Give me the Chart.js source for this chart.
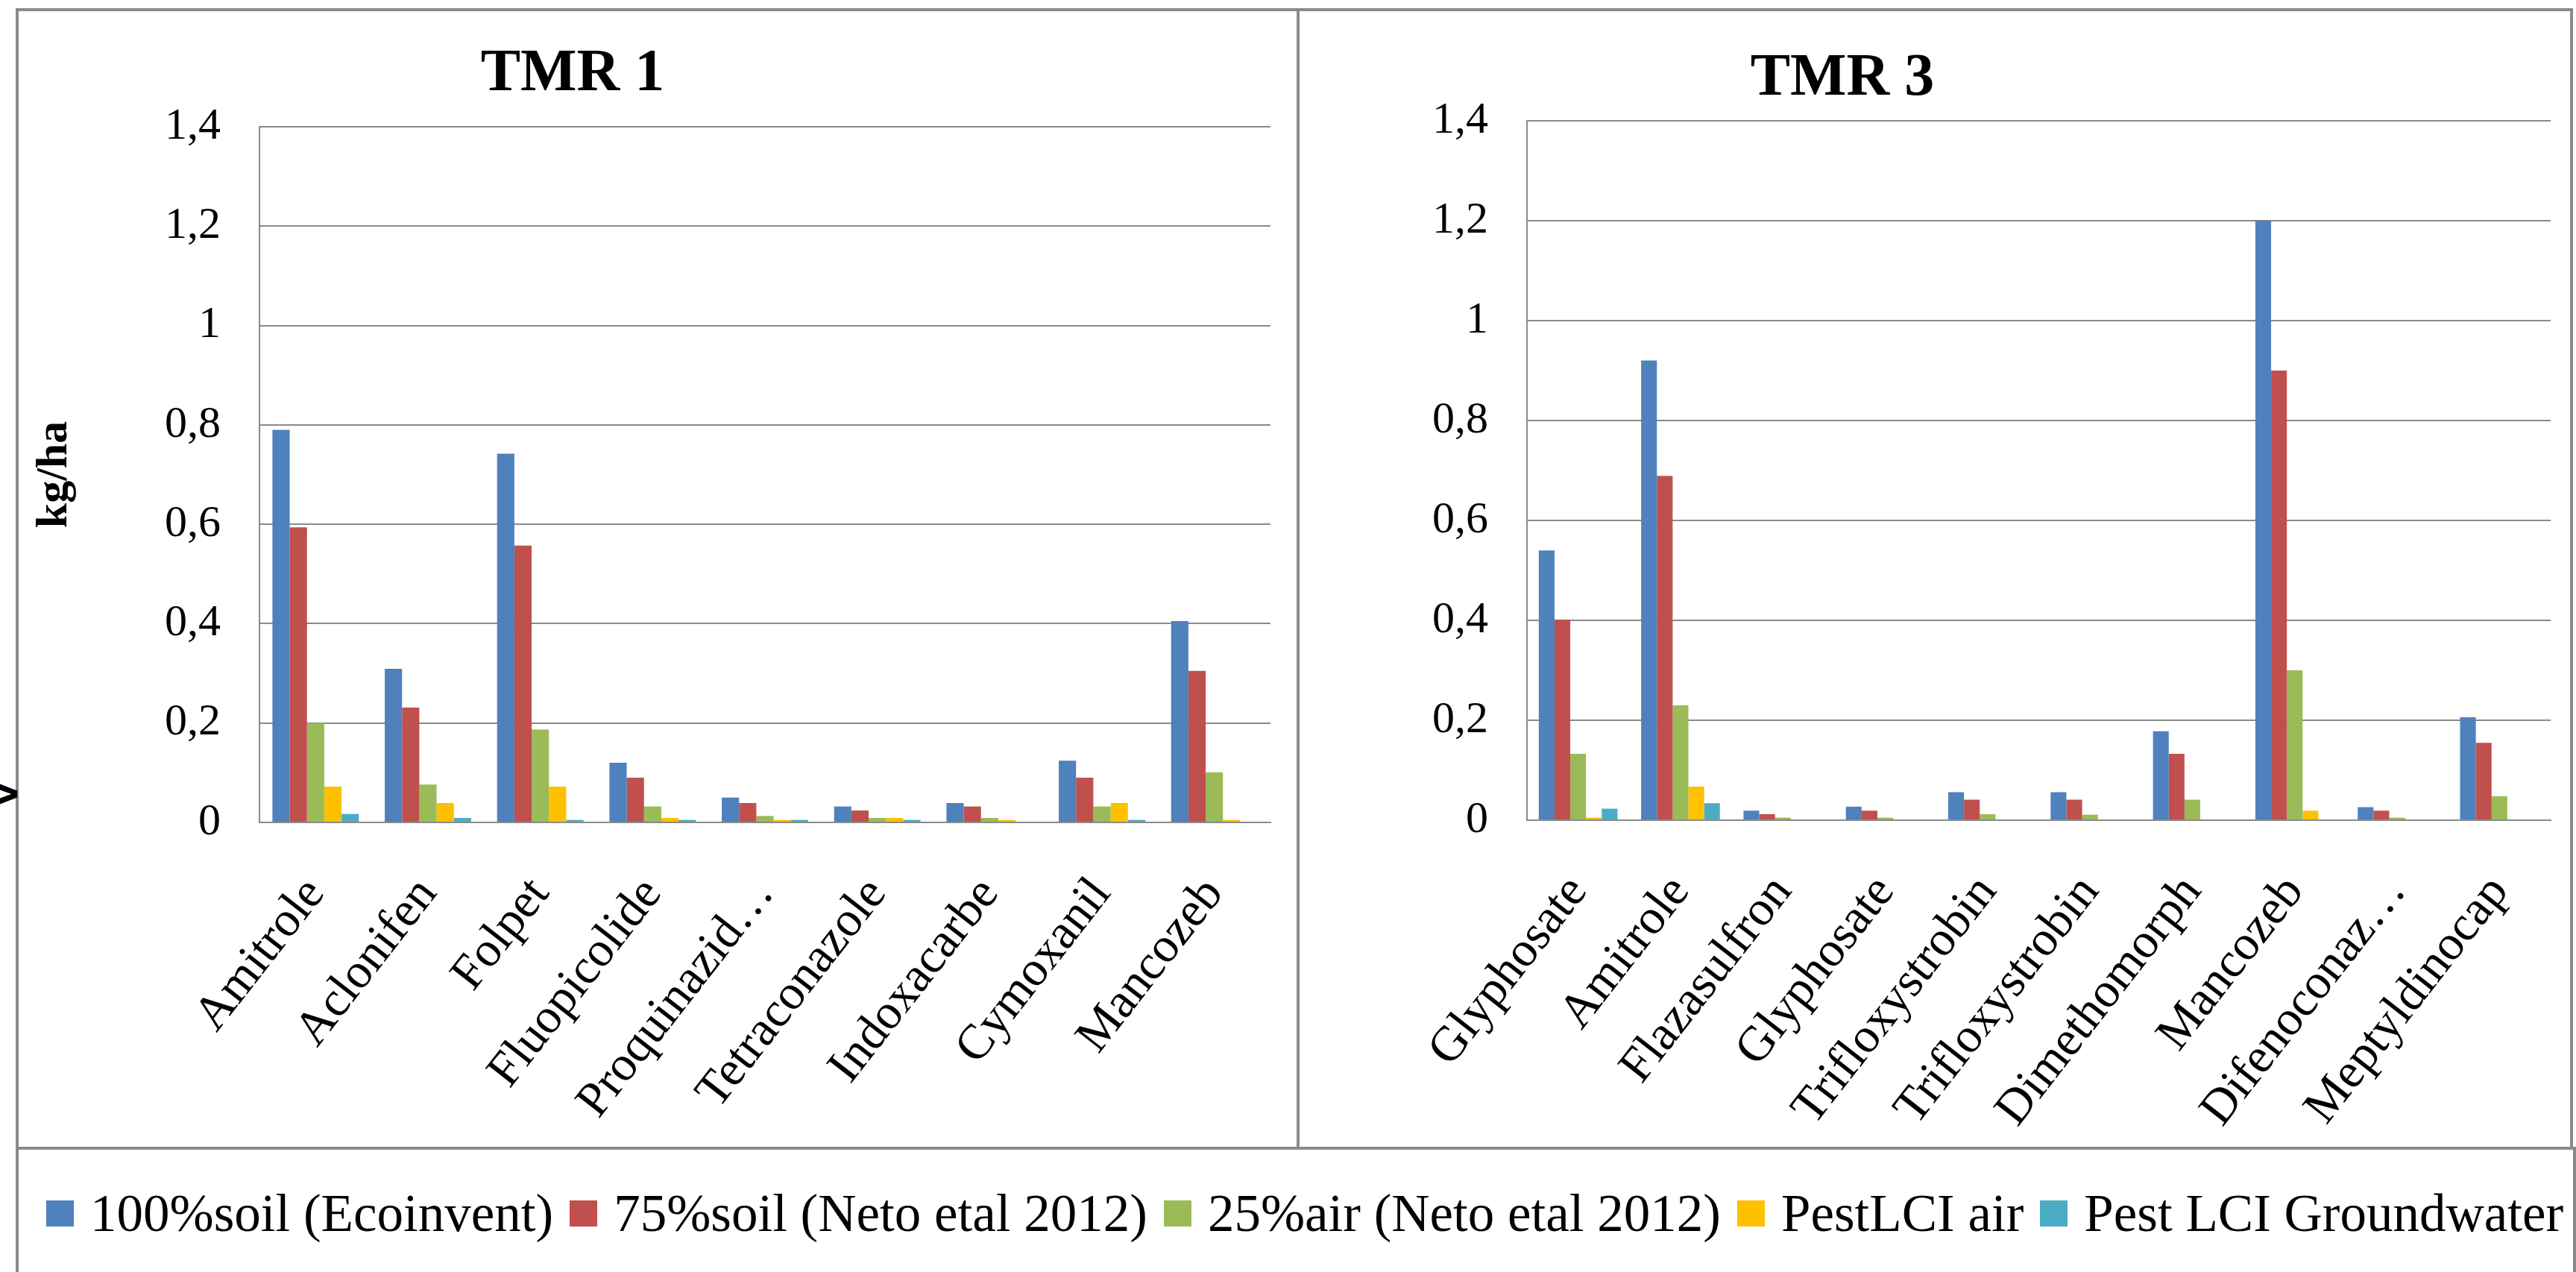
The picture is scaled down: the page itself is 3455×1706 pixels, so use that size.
<!DOCTYPE html>
<html>
<head>
<meta charset="utf-8">
<title>TMR 1 / TMR 3 – pesticide emissions (kg/ha)</title>
<script src="https://cdn.jsdelivr.net/npm/chart.js@4.4.1/dist/chart.umd.min.js"></script>
<style>
  html, body { margin: 0; padding: 0; background: #fff; }
  #page { position: relative; width: 3455px; height: 1706px; overflow: hidden; background: #fff; }
  .rule { position: absolute; background: #8a8a8a; }
  .cell { position: absolute; }
  #legend {
    position: absolute; left: 62px; top: 1546px; height: 163px; width: 3393px;
    display: flex; align-items: center; white-space: nowrap;
    font-family: "Liberation Serif", "Times New Roman", serif; font-size: 71px; color: #000;
  }
  .item { display: flex; align-items: center; margin-right: 22px; }
  .swatch { width: 37px; height: 35px; margin-right: 22px; flex: none; }
  #clip {
    position: absolute; left: -8px; top: 1038px;
    font-family: "DejaVu Sans", sans-serif; font-weight: bold; font-size: 46px; color: #000;
    transform: rotate(-90deg); transform-origin: center;
  }
</style>
</head>
<body>
<div id="page">
  <!-- frame of the two panels and the legend row -->
  <div class="rule" style="left:21px;top:11px;width:3430px;height:4px;"></div>
  <div class="rule" style="left:21px;top:11px;width:4px;height:1695px;"></div>
  <div class="rule" style="left:1739px;top:11px;width:4px;height:1531px;"></div>
  <div class="rule" style="left:3447px;top:11px;width:4px;height:1531px;"></div>
  <div class="rule" style="left:3451px;top:1538px;width:4px;height:168px;"></div>
  <div class="rule" style="left:21px;top:1538px;width:3434px;height:4px;"></div>

  <div id="clip">v</div>

  <canvas class="cell" id="tmr1" width="1714" height="1523" style="left:25px;top:15px;"></canvas>
  <canvas class="cell" id="tmr3" width="1704" height="1523" style="left:1743px;top:15px;"></canvas>

  <div id="legend"></div>
</div>

<script>
// ---- data -------------------------------------------------------------
const seriesNames = [
  '100%soil (Ecoinvent)',
  '75%soil (Neto etal 2012)',
  '25%air (Neto etal 2012)',
  'PestLCI air',
  'Pest LCI Groundwater'
];

const tmr1Categories = ['Amitrole', 'Aclonifen', 'Folpet', 'Fluopicolide', 'Proquinazid\u2026',
                        'Tetraconazole', 'Indoxacarbe', 'Cymoxanil', 'Mancozeb'];
const tmr1Soil100   = [0.790, 0.309, 0.742, 0.120, 0.050, 0.032, 0.039, 0.124, 0.405];
const tmr1Soil75    = [0.594, 0.231, 0.557, 0.090, 0.039, 0.024, 0.032, 0.090, 0.305];
const tmr1Air25     = [0.200, 0.076, 0.187, 0.032, 0.013, 0.009, 0.009, 0.032, 0.101];
const tmr1PestAir   = [0.072, 0.039, 0.072, 0.009, 0.005, 0.009, 0.005, 0.039, 0.005];
const tmr1PestGw    = [0.017, 0.009, 0.005, 0.005, 0.005, 0.005, 0.000, 0.005, 0.000];

const tmr3Categories = ['Glyphosate', 'Amitrole', 'Flazasulfron', 'Glyphosate', 'Trifloxystrobin',
                        'Trifloxystrobin', 'Dimethomorph', 'Mancozeb', 'Difenoconaz\u2026', 'Meptyldinocap'];
const tmr3Soil100   = [0.540, 0.920, 0.019, 0.027, 0.056, 0.056, 0.178, 1.200, 0.026, 0.206];
const tmr3Soil75    = [0.401, 0.689, 0.012, 0.019, 0.041, 0.041, 0.133, 0.900, 0.019, 0.155];
const tmr3Air25     = [0.133, 0.230, 0.005, 0.005, 0.012, 0.011, 0.041, 0.300, 0.005, 0.048];
const tmr3PestAir   = [0.005, 0.067, 0.000, 0.000, 0.000, 0.000, 0.000, 0.019, 0.000, 0.000];
const tmr3PestGw    = [0.023, 0.034, 0.000, 0.000, 0.000, 0.000, 0.000, 0.000, 0.000, 0.000];

const yTickValues = [0, 0.2, 0.4, 0.6, 0.8, 1, 1.2, 1.4];

// ---- styling ----------------------------------------------------------
const seriesColors = ['#4F81BD', '#C0504D', '#9BBB59', '#FFC000', '#4BACC6'];
const SERIF = '"Liberation Serif", "Times New Roman", serif';
const GRID = '#8a8a8a';

// Panel heading drawn at a fixed spot above the plot
const panelTitle = {
  id: 'panelTitle',
  afterDraw(chart, args, opts) {
    const ctx = chart.ctx;
    ctx.save();
    ctx.font = 'bold 80px ' + SERIF;
    ctx.fillStyle = '#000';
    ctx.textAlign = 'center';
    ctx.textBaseline = 'middle';
    ctx.fillText(opts.text, opts.x, opts.y);
    ctx.restore();
  }
};

function commaDecimal(v) {
  return String(Math.round(v * 10) / 10).replace('.', ',');
}

function makeDatasets(series) {
  return series.map((values, i) => ({
    label: seriesNames[i],
    data: values,
    backgroundColor: seriesColors[i],
    borderWidth: 0,
    categoryPercentage: 5 / 6.5,
    barPercentage: 1.0
  }));
}

function buildPanel(canvasId, categories, series, cfg) {
  return new Chart(document.getElementById(canvasId), {
    type: 'bar',
    data: { labels: categories, datasets: makeDatasets(series) },
    plugins: [panelTitle],
    options: {
      responsive: false,
      animation: false,
      devicePixelRatio: 1,
      layout: { padding: { left: 0, right: cfg.padRight, top: cfg.padTop, bottom: 0 } },
      plugins: {
        legend: { display: false },
        tooltip: { enabled: false },
        panelTitle: { text: cfg.title, x: cfg.titleX, y: cfg.titleY }
      },
      scales: {
        x: {
          // fixed band for the slanted names; the plot keeps its full width
          afterFit: s => { s.height = cfg.xAxisHeight; s.paddingLeft = 0; s.paddingRight = 0; },
          border: { display: true, color: GRID, width: 2 },
          grid: { display: false, drawTicks: false },
          ticks: {
            autoSkip: false, minRotation: 52, maxRotation: 52, padding: 60,
            color: '#000', font: { family: SERIF, size: 66 }
          }
        },
        y: {
          min: 0, max: 1.4,
          afterBuildTicks: s => { s.ticks = yTickValues.map(v => ({ value: v })); },
          afterFit: s => { s.width = cfg.yAxisWidth; s.paddingTop = 0; s.paddingBottom = 0; },
          border: { display: true, color: GRID, width: 2 },
          grid: { color: GRID, lineWidth: 2, drawTicks: false },
          ticks: {
            padding: 52, color: '#000', font: { family: SERIF, size: 60 },
            callback: v => commaDecimal(v)
          },
          title: cfg.yTitle
            ? { display: true, text: cfg.yTitle, color: '#000',
                font: { family: SERIF, size: 60, weight: 'bold' }, padding: { top: 12, bottom: 0 } }
            : { display: false }
        }
      }
    }
  });
}

const left = buildPanel('tmr1', tmr1Categories,
  [tmr1Soil100, tmr1Soil75, tmr1Air25, tmr1PestAir, tmr1PestGw],
  { title: 'TMR 1', titleX: 743, titleY: 85, padTop: 155, padRight: 35,
    yAxisWidth: 323, xAxisHeight: 435, yTitle: 'kg/ha' });

const right = buildPanel('tmr3', tmr3Categories,
  [tmr3Soil100, tmr3Soil75, tmr3Air25, tmr3PestAir, tmr3PestGw],
  { title: 'TMR 3', titleX: 728, titleY: 91, padTop: 147, padRight: 26,
    yAxisWidth: 305, xAxisHeight: 438, yTitle: null });

// ---- shared legend built from the chart's own datasets -----------------
const legendBox = document.getElementById('legend');
left.data.datasets.forEach(ds => {
  const item = document.createElement('div');
  item.className = 'item';
  const sw = document.createElement('span');
  sw.className = 'swatch';
  sw.style.background = ds.backgroundColor;
  const txt = document.createElement('span');
  txt.textContent = ds.label;
  item.appendChild(sw);
  item.appendChild(txt);
  legendBox.appendChild(item);
});
</script>
</body>
</html>
